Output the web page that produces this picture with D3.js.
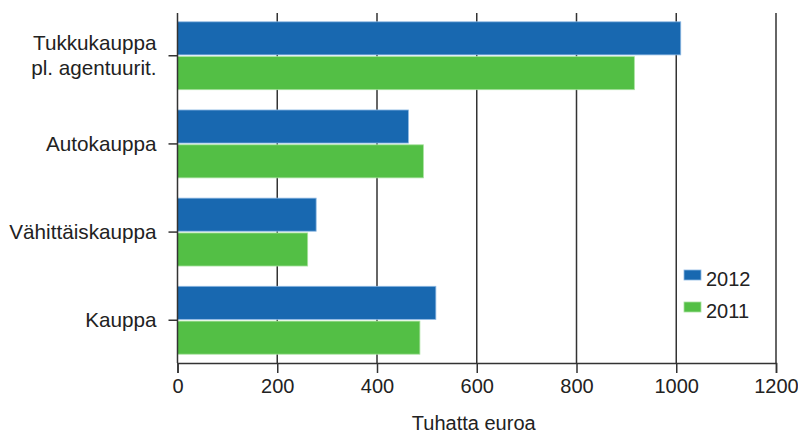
<!DOCTYPE html>
<html><head><meta charset="utf-8">
<script src="https://cdn.jsdelivr.net/npm/d3@7"></script>
<style>body{margin:0;background:#fff}svg{display:block}text{font-family:"Liberation Sans",Arial,sans-serif;fill:#222}</style>
</head><body><svg id="c" width="798" height="436"></svg>
<script>
const categories = ["Tukkukauppa\npl. agentuurit.", "Autokauppa", "Vähittäiskauppa", "Kauppa"];
const series = ["2012", "2011"];
const values2012 = [1009, 463, 278, 518];
const values2011 = [916, 493, 261, 486];
const xTicks = [0, 200, 400, 600, 800, 1000, 1200];
const colors = ["#1868b0", "#53bf45"];
const axisTitle = "Tuhatta euroa";

const svg = d3.select("#c");
const L = 177.5, R = 776, T = 13, B = 363;
const x = d3.scaleLinear().domain([0, 1200]).range([L, R]);
const y = d3.scaleBand().domain(categories).range([T, B]).paddingInner(0.23).paddingOuter(0.1);
const ys = d3.scaleBand().domain(series).range([0, y.bandwidth()]).paddingInner(0.05);

// gridlines
svg.append("g").selectAll("line").data(xTicks.filter(d => d > 0)).join("line")
  .attr("x1", d => x(d)).attr("x2", d => x(d)).attr("y1", T).attr("y2", B)
  .attr("stroke", "#333").attr("stroke-width", 1.5);

const vals = [values2012, values2011];
series.forEach((s, si) => {
  svg.append("g").selectAll("rect").data(categories).join("rect")
    .attr("x", x(0)).attr("y", (c) => y(c) + ys(s))
    .attr("width", (c, i) => x(vals[si][i]) - x(0))
    .attr("height", ys.bandwidth())
    .attr("fill", colors[si])
    .attr("stroke", si === 0 ? "#8db8e3" : "#a8e29f").attr("stroke-width", 0.8);
});

// x axis
const xa = svg.append("g").attr("transform", `translate(0,${B})`)
  .call(d3.axisBottom(x).tickValues(xTicks).tickSize(10).tickPadding(6).tickFormat(d3.format("d")));
xa.select(".domain").attr("stroke", "#333").attr("stroke-width", 1.5);
xa.selectAll(".tick line").attr("stroke", "#333").attr("stroke-width", 1.5);
xa.selectAll("text").attr("font-size", 20).attr("fill", "#222").style("font-family", "Liberation Sans, Arial, sans-serif");

// y axis
const ya = svg.append("g").attr("transform", `translate(${L},0)`)
  .call(d3.axisLeft(y).tickSize(9).tickPadding(12).tickFormat(""));
ya.select(".domain").attr("stroke", "#333").attr("stroke-width", 1.5).attr("d", `M0,${T}V${B}`);
ya.selectAll(".tick line").attr("stroke", "#333").attr("stroke-width", 1.5);
ya.selectAll(".tick").each(function(d) {
  const lines = d.split("\n");
  const t = d3.select(this).append("text").attr("x", -21).attr("text-anchor", "end")
    .attr("font-size", 20.7).attr("fill", "#222");
  lines.forEach((ln, i) => {
    t.append("tspan").attr("x", -21).attr("y", (i - (lines.length - 1) / 2) * 25 + 7).text(ln);
  });
});

// legend
const lg = svg.append("g");
series.forEach((s, i) => {
  const g = lg.append("g").attr("transform", `translate(684,${270 + i * 32})`);
  g.append("rect").attr("width", 17).attr("height", 10).attr("fill", colors[i])
    .attr("stroke", i === 0 ? "#8db8e3" : "#a8e29f").attr("stroke-width", 0.8);
  g.append("text").attr("x", 22).attr("y", 16).attr("font-size", 20).text(s);
});

// axis title
svg.append("text").attr("x", (L + R) / 2 - 3).attr("y", 430).attr("text-anchor", "middle")
  .attr("font-size", 20).text(axisTitle);
</script></body></html>
